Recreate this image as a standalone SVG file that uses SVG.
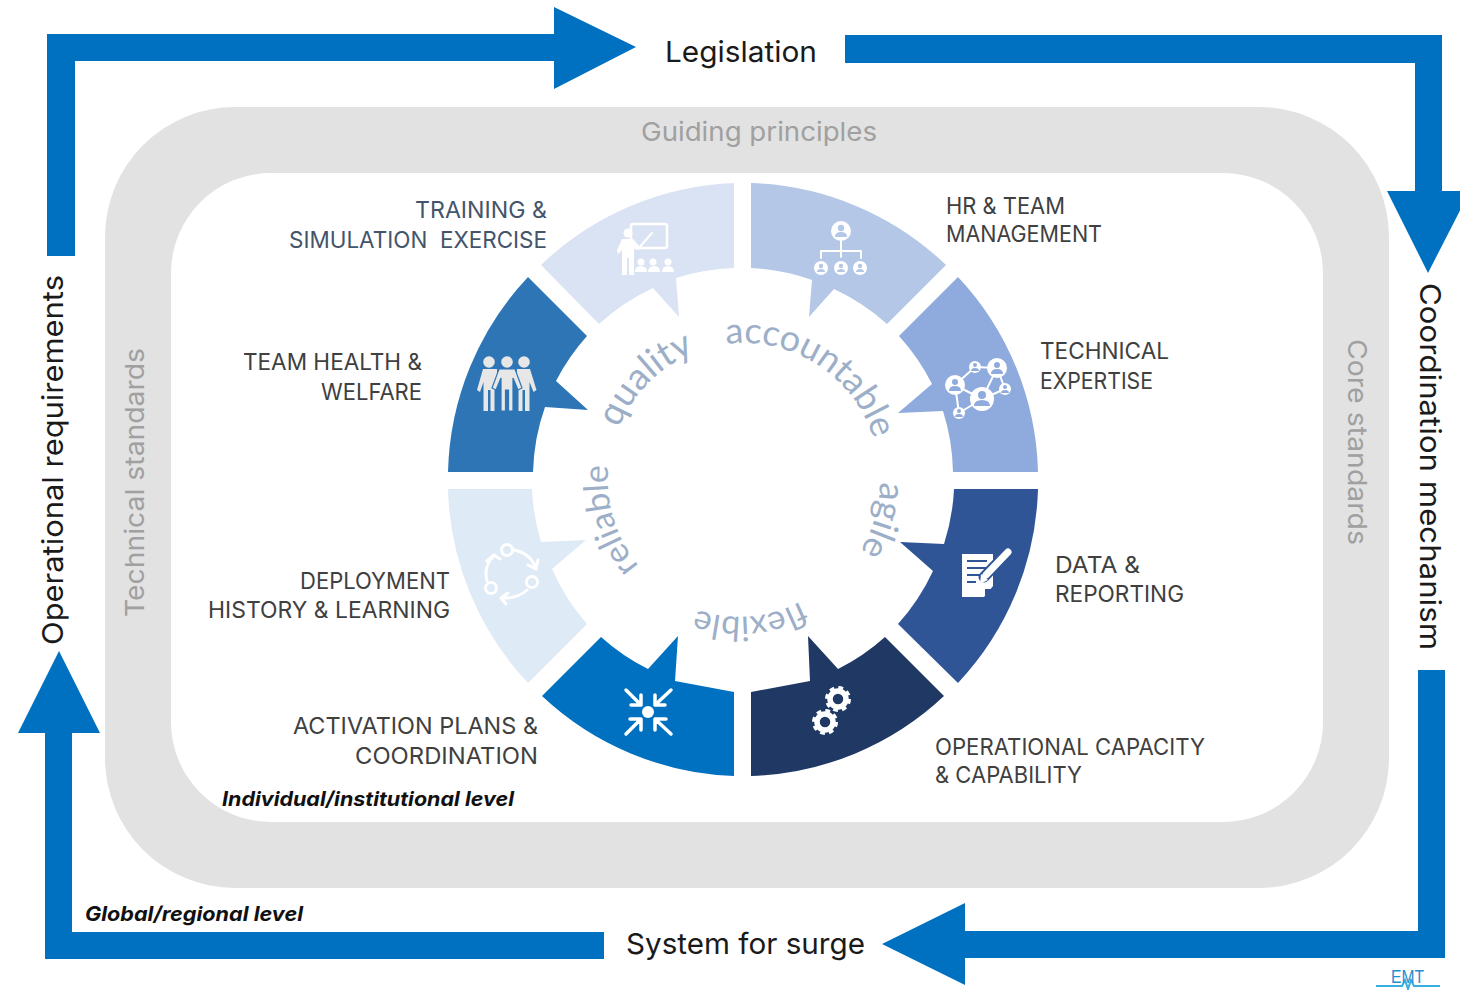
<svg xmlns="http://www.w3.org/2000/svg" width="1460" height="990" viewBox="0 0 1460 990">
<style>
.arrow{fill:#0070C0}
.main{font-family:Inter,"Open Sans",sans-serif;font-size:29px;fill:#1a1a1a}
.grey{font-family:Inter,"Open Sans",sans-serif;font-size:26px;fill:#A0A0A0}
.lab{font-family:Inter,"Open Sans",sans-serif;font-size:23px;fill:#404040}
.labb{font-family:Inter,"Open Sans",sans-serif;font-size:23px;fill:#44546A}
.lvl{font-family:Inter,"Open Sans",sans-serif;font-size:20px;font-weight:700;font-style:italic;fill:#111}
.cur{font-family:Lato,"Open Sans",sans-serif;font-size:36px;fill:#9DAFC8}
.w{fill:#fff}.ws{fill:none;stroke:#fff;stroke-linecap:round;stroke-linejoin:round}
</style>
<defs>
<path id="p-acc" d="M726 344 A137 137 0 0 1 880 480"/>
<path id="p-qua" d="M619 428 A135 135 0 0 1 745 343"/>
<path id="p-rel" d="M639 566 A135 135 0 0 1 626 412"/>
<path id="p-agi" d="M880 482 A137 137 0 0 1 831 585"/>
<path id="p-fle" d="M801 601 A130 130 0 0 1 660 590"/>
</defs>
<rect width="1460" height="990" fill="#fff"/>
<g id="frame">
<path fill="#E2E2E2" fill-rule="evenodd" d="M235 107H1259A130 130 0 0 1 1389 237V758A130 130 0 0 1 1259 888H235A130 130 0 0 1 105 758V237A130 130 0 0 1 235 107ZM271 173A100 100 0 0 0 171 273V722A100 100 0 0 0 271 822H1223A100 100 0 0 0 1323 722V273A100 100 0 0 0 1223 173Z"/>
</g>
<g id="connectors">
<polygon class="arrow" points="47,256 47,34 554,34 554,7 636,47 554,89 554,61 75,61 75,256"/>
<polygon class="arrow" points="845,35 1442,35 1442,191 1470,191 1428,273 1387,191 1415,191 1415,63 845,63"/>
<polygon class="arrow" points="1418,670 1445,670 1445,958 965,958 965,985 882,944 965,903 965,931 1418,931"/>
<polygon class="arrow" points="604,932 604,959 45,959 45,733 18,733 59,651 100,733 72,733 72,932"/>
</g>
<g id="node-training">
<path fill="#DAE3F3" d="M734 183V268A212 212 0 0 0 676 278L679 317L653 288A212 212 0 0 0 599 324L541 265A295 295 0 0 1 734 183Z"/>
<rect x="631" y="224" width="36" height="24" rx="2" fill="none" stroke="#fff" stroke-width="2.500"/>
<path class="ws" stroke-width="2" d="M638 249L652 233"/>
<circle class="w" cx="628" cy="233" r="4.500"/>
<path class="w" d="M622 239H633L640 247L638 250L634 246V275H629V258H627V275H622V250L618 254L617 250Z"/>
<g class="w"><circle cx="641" cy="262" r="3.500"/><circle cx="653" cy="262" r="3.500"/><circle cx="668" cy="262" r="3.500"/>
<path d="M635 272Q635 266 641 266Q647 266 647 272ZM648 272Q648 266 654 266Q660 266 660 272ZM662 272Q662 266 668 266Q674 266 674 272Z"/></g>
</g>
<g id="node-hr">
<path fill="#B4C7E7" d="M751 183A295 295 0 0 1 946 265L887 324A212 212 0 0 0 834 289L809 317L812 280A212 212 0 0 0 751 268Z"/>
<path class="ws" stroke-width="2" d="M841 240V257M821 258V251H861V258"/>
<circle class="w" cx="841" cy="231" r="10"/><circle class="w" cx="821" cy="268" r="7"/><circle class="w" cx="841" cy="268" r="7"/><circle class="w" cx="860" cy="268" r="7"/>
<g fill="#B4C7E7"><circle cx="841" cy="228" r="3.200"/><path d="M835 237Q835 232 841 232Q847 232 847 237Z"/>
<circle cx="821" cy="266" r="2.200"/><path d="M817 272Q817 269 821 269Q825 269 825 272Z"/>
<circle cx="841" cy="266" r="2.200"/><path d="M837 272Q837 269 841 269Q845 269 845 272Z"/>
<circle cx="860" cy="266" r="2.200"/><path d="M856 272Q856 269 860 269Q864 269 864 272Z"/></g>
</g>
<g id="node-technical">
<path fill="#8FAADC" d="M958 277A295 295 0 0 1 1038 472H953A212 212 0 0 0 943 411L898 413L932 384A212 212 0 0 0 899 336Z"/>
<path class="ws" stroke-width="2" d="M955 385L975 367L997 368L1005 389L982 399L959 413L955 385M997 368L982 399M955 385L982 399"/>
<g class="w"><circle cx="955" cy="385" r="10"/><circle cx="975" cy="367" r="6"/><circle cx="997" cy="368" r="10"/><circle cx="1005" cy="389" r="6"/><circle cx="982" cy="399" r="12"/><circle cx="959" cy="413" r="6"/></g>
<g fill="#8FAADC"><circle cx="955" cy="382" r="3"/><path d="M949 391Q949 386 955 386Q961 386 961 391Z"/>
<circle cx="975" cy="365" r="2"/><path d="M971 371Q971 368 975 368Q979 368 979 371Z"/>
<circle cx="997" cy="365" r="3"/><path d="M991 374Q991 369 997 369Q1003 369 1003 374Z"/>
<circle cx="1005" cy="387" r="2"/><path d="M1001 393Q1001 390 1005 390Q1009 390 1009 393Z"/>
<circle cx="982" cy="395" r="4"/><path d="M974 406Q974 400 982 400Q990 400 990 406Z"/>
<circle cx="959" cy="411" r="2"/><path d="M955 417Q955 414 959 414Q963 414 963 417Z"/></g>
</g>
<g id="node-data">
<path fill="#2F5597" d="M954 489H1038A295 295 0 0 1 958 683L898 624A212 212 0 0 0 933 571L900 542L944 544A212 212 0 0 0 954 489Z"/>
<path class="w" d="M962 554H993V586L984 597H962Z"/>
<path d="M967 561H987M967 568H987M967 575H981M967 582H976" stroke="#2F5597" stroke-width="2" fill="none"/>
<path d="M985 589H992L985 596Z" fill="#2F5597"/>
<path d="M984 577L1008 552" stroke="#2F5597" stroke-width="11" fill="none" stroke-linecap="round"/>
<path class="ws" stroke-width="7" d="M986 575L1008 552"/>
<path class="w" d="M981 574L988 580L980 584Z"/>
</g>
<g id="node-operational">
<path fill="#1F3864" d="M751 692L810 681L808 636L838 669A212 212 0 0 0 885 637L944 696A295 295 0 0 1 751 776Z"/>
<circle cx="838" cy="699" r="8" fill="none" stroke="#fff" stroke-width="5.500"/>
<circle cx="838" cy="699" r="11" fill="none" stroke="#fff" stroke-width="4" stroke-dasharray="4.600 4.040"/>
<circle cx="825" cy="722" r="8" fill="none" stroke="#fff" stroke-width="5.500"/>
<circle cx="825" cy="722" r="11" fill="none" stroke="#fff" stroke-width="4" stroke-dasharray="4.600 4.040"/>
</g>
<g id="node-activation">
<path fill="#0070C0" d="M734 692L675 681L678 636L648 669A212 212 0 0 1 601 637L542 696A295 295 0 0 0 734 776Z"/>
<circle class="w" cx="648" cy="712" r="6"/>
<path class="ws" stroke-width="3.500" stroke-linecap="butt" d="M626 690L641 705M641 695V705H631M671 690L655 705M655 695V705H665M626 734L641 719M630 719H641V730M671 734L655 719M655 730V719H666"/>
</g>
<g id="node-deployment">
<path fill="#DEEAF6" d="M448 489H532A212 212 0 0 0 541 542L586 540L552 569A212 212 0 0 0 587 624L528 683A295 295 0 0 1 448 489Z"/>
<circle cx="507" cy="550" r="5.500" fill="none" stroke="#fff" stroke-width="3"/>
<circle cx="532" cy="582" r="5.500" fill="none" stroke="#fff" stroke-width="3"/>
<circle cx="491" cy="588" r="5.500" fill="none" stroke="#fff" stroke-width="3"/>
<path class="ws" stroke-width="3" d="M514 550Q530 553 536 568M528 565L536 569L538 560M527 590Q517 599 502 598M508 593L501 598L506 604M487 581Q483 566 494 556M487 561L494 555L500 559"/>
</g>
<g id="node-health">
<path fill="#2E75B6" d="M448 472A295 295 0 0 1 528 277L587 336A212 212 0 0 0 556 381L588 410L545 407A212 212 0 0 0 533 472Z"/>
<g fill="#E7E7E7"><circle cx="489" cy="362" r="5.800"/><circle cx="507" cy="362" r="5.800"/><circle cx="524" cy="362" r="5.800"/>
<path d="M483 369H497V380L494.500 385V411H490.500V390H488V411H483.500V382L480 392L477 390Z"/>
<path d="M530 369H517V380L518.500 385V411H522.500V390H525V411H529.500V382L533.500 392L536.500 390Z"/></g>
<path fill="#E7E7E7" stroke="#2E75B6" stroke-width="1.200" d="M499 369H515L522 388L518 390L513 378V411H508.500V390H505.500V411H501V378L496 390L492 388Z"/>
</g>
<g id="curved-text" class="cur">
<text><textPath href="#p-acc">accountable</textPath></text>
<text style="font-size:37px"><textPath href="#p-qua">quality</textPath></text>
<text style="font-size:34px"><textPath href="#p-rel">reliable</textPath></text>
<text><textPath href="#p-agi">agile</textPath></text>
<text style="font-size:34px"><textPath href="#p-fle">flexible</textPath></text>
</g>
<g id="labels">
<text class="main" x="665" y="62" textLength="152" lengthAdjust="spacingAndGlyphs">Legislation</text>
<text class="main" x="626" y="954" textLength="239" lengthAdjust="spacingAndGlyphs">System for surge</text>
<text class="main" transform="translate(63,645) rotate(-90)" textLength="370" lengthAdjust="spacingAndGlyphs">Operational requirements</text>
<text class="main" transform="translate(1420,283) rotate(90)" textLength="367" lengthAdjust="spacingAndGlyphs">Coordination mechanism</text>
<text class="grey" x="641" y="141" textLength="236" lengthAdjust="spacingAndGlyphs">Guiding principles</text>
<text class="grey" transform="translate(144,617) rotate(-90)" textLength="269" lengthAdjust="spacingAndGlyphs">Technical standards</text>
<text class="grey" transform="translate(1348,339) rotate(90)" textLength="206" lengthAdjust="spacingAndGlyphs">Core standards</text>
<text class="labb" x="415" y="218" textLength="132" lengthAdjust="spacingAndGlyphs">TRAINING &amp;</text>
<text class="labb" x="289" y="248" textLength="258" lengthAdjust="spacingAndGlyphs" xml:space="preserve">SIMULATION  EXERCISE</text>
<text class="lab" x="946" y="214" textLength="119" lengthAdjust="spacingAndGlyphs">HR &amp; TEAM</text>
<text class="lab" x="946" y="242" textLength="156" lengthAdjust="spacingAndGlyphs">MANAGEMENT</text>
<text class="lab" x="1040" y="359" textLength="129" lengthAdjust="spacingAndGlyphs">TECHNICAL</text>
<text class="lab" x="1040" y="389" textLength="113" lengthAdjust="spacingAndGlyphs">EXPERTISE</text>
<text class="lab" x="243" y="370" textLength="179" lengthAdjust="spacingAndGlyphs">TEAM HEALTH &amp;</text>
<text class="lab" x="321" y="400" textLength="101" lengthAdjust="spacingAndGlyphs">WELFARE</text>
<text class="lab" x="300" y="589" textLength="150" lengthAdjust="spacingAndGlyphs">DEPLOYMENT</text>
<text class="lab" x="208" y="618" textLength="242" lengthAdjust="spacingAndGlyphs">HISTORY &amp; LEARNING</text>
<text class="lab" x="293" y="734" textLength="245" lengthAdjust="spacingAndGlyphs">ACTIVATION PLANS &amp;</text>
<text class="lab" x="355" y="764" textLength="183" lengthAdjust="spacingAndGlyphs">COORDINATION</text>
<text class="lab" x="1055" y="573" textLength="85" lengthAdjust="spacingAndGlyphs">DATA &amp;</text>
<text class="lab" x="1055" y="602" textLength="129" lengthAdjust="spacingAndGlyphs">REPORTING</text>
<text class="lab" x="935" y="755" textLength="270" lengthAdjust="spacingAndGlyphs">OPERATIONAL CAPACITY</text>
<text class="lab" x="935" y="783" textLength="147" lengthAdjust="spacingAndGlyphs">&amp; CAPABILITY</text>
<text class="lvl" x="222" y="806" textLength="292" lengthAdjust="spacingAndGlyphs">Individual/institutional level</text>
<text class="lvl" x="85" y="921" textLength="218" lengthAdjust="spacingAndGlyphs">Global/regional level</text>
</g>
<g id="logo">
<path d="M1376 986H1402L1405 980L1408 989L1411 980L1414 986H1440" fill="none" stroke="#38AEE0" stroke-width="2"/>
<text x="1391" y="983" font-family="Liberation Sans,sans-serif" font-size="18" fill="#1F8FD0" textLength="33" lengthAdjust="spacingAndGlyphs">EMT</text>
</g>
</svg>
